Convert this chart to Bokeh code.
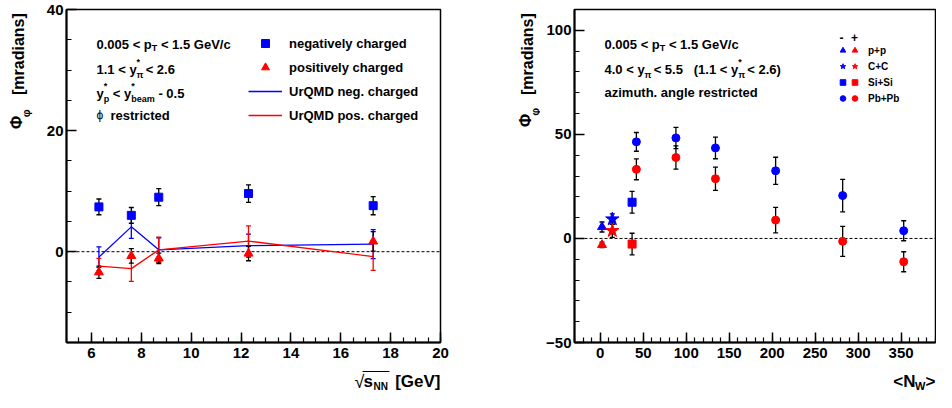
import math
from bokeh.plotting import figure
from bokeh.models import (ColumnDataSource, Whisker, TeeHead, Span, Label, Legend,
                          LegendItem, Range1d, SingleIntervalTicker)
from bokeh.layouts import row, column
from bokeh.embed import file_html
from bokeh.resources import INLINE

FONT = "Liberation Sans"
BLUE = "#0000ff"
RED = "#ff0000"

# ---------------- left panel data (vs sqrt(s_NN)) ----------------
sqrt_s_nn = [6.3, 7.6, 8.7, 12.3, 17.3]
neg_phi = [7.4, 6.0, 9.0, 9.6, 7.6]
neg_err = [1.3, 1.3, 1.4, 1.45, 1.5]
pos_phi = [-3.4, -0.7, -1.1, -0.3, 1.7]
pos_err = [1.0, 1.2, 0.85, 1.2, 1.6]
urqmd_neg = [-0.9, 4.1, 0.3, 1.0, 1.25]
urqmd_neg_err = [1.7, 1.9, 2.0, 1.9, 2.4]
urqmd_pos = [-2.4, -2.8, 0.3, 1.75, -0.8]
urqmd_pos_err = [1.3, 2.1, 2.1, 2.5, 2.3]
left_legend_labels = ["negatively charged", "positively charged",
                      "UrQMD neg. charged", "UrQMD pos. charged"]

# ---------------- right panel data (vs <N_W>) ----------------
systems = ["p+p", "C+C", "Si+Si", "Pb+Pb"]
nw_pp = [2]
neg_pp = [5.5]
neg_pp_err = [2.4]
pos_pp = [-3.1]
pos_pp_err = [1.3]
nw_cc = [14]
neg_cc = [9.3]
neg_cc_err = [2.5]
pos_cc = [3.7]
pos_cc_err = [3.2]
nw_sisi = [37]
neg_sisi = [17.4]
neg_sisi_err = [5.2]
pos_sisi = [-2.7]
pos_sisi_err = [5.2]
nw_pbpb = [42, 88, 134, 204, 282, 353]
neg_pbpb = [46.4, 48.3, 43.5, 32.5, 20.6, 3.7]
neg_pbpb_err = [4.5, 5.1, 5.2, 6.5, 7.8, 4.8]
pos_pbpb = [33.2, 38.9, 28.7, 8.8, -1.4, -11.2]
pos_pbpb_err = [5.0, 5.6, 5.6, 6.1, 7.2, 4.8]

# ---------------- text helpers ----------------
AW = {' ': 278, '.': 278, ',': 278, '<': 584, '>': 584, '+': 584, '-': 333, '/': 278,
      '(': 333, ')': 333, '[': 333, ']': 333, '*': 389,
      'a': 556, 'b': 611, 'c': 556, 'd': 611, 'e': 556, 'f': 333, 'g': 611, 'h': 611,
      'i': 278, 'j': 278, 'k': 556, 'l': 278, 'm': 889, 'n': 611, 'o': 611, 'p': 611,
      'q': 611, 'r': 389, 's': 556, 't': 333, 'u': 611, 'v': 556, 'w': 778, 'x': 556,
      'y': 556, 'z': 500, 'A': 722, 'B': 722, 'C': 722, 'D': 722, 'E': 667, 'F': 611,
      'G': 778, 'H': 722, 'I': 278, 'M': 833, 'N': 722, 'P': 667, 'Q': 778, 'R': 722,
      'S': 667, 'T': 611, 'U': 722, 'V': 667, 'W': 944, 'π': 600, 'ϕ': 650}
for d in "0123456789":
    AW[d] = 556


def tw(s, size):
    return sum(AW.get(c, 600) for c in s) / 1000.0 * size


def put(p, x, y, text, size, x_off=0, y_off=0, align="left", baseline="middle",
        angle=0, style="bold", color="black"):
    p.add_layout(Label(x=x, y=y, x_offset=x_off, y_offset=y_off, text=text,
                       text_font=FONT, text_font_size=f"{size}px", text_font_style=style,
                       text_color=color, text_align=align, text_baseline=baseline,
                       angle=angle))


def draw_piece(p, x, y, txt, size, off, dy):
    lead = len(txt) - len(txt.lstrip(" "))
    body = txt.strip(" ")
    if body:
        put(p, x, y, body, size, x_off=off + tw(" " * lead, size), y_off=dy)
    return tw(txt, size)


def rich(p, x, y, parts, size=13, x_off=0):
    off = x_off
    small = round(size * 0.7)
    for part in parts:
        kind = part[0]
        if kind == "n":
            off += draw_piece(p, x, y, part[1], size, off, 0)
        elif kind == "subT":
            off += draw_piece(p, x, y, part[1], small, off, -4)
        elif kind == "sub":
            off += draw_piece(p, x, y, part[1], small, off, -6)
        elif kind == "subsup":
            w1 = draw_piece(p, x, y, part[1], small, off, -6)
            w2 = draw_piece(p, x, y, part[2], small, off, 7)
            off += max(w1, w2)
    return off


def errbars(p, xs, ys, errs, color):
    src = ColumnDataSource(dict(x=xs, lower=[a - b for a, b in zip(ys, errs)],
                                upper=[a + b for a, b in zip(ys, errs)]))
    p.add_layout(Whisker(source=src, base="x", lower="lower", upper="upper",
                         line_color=color, line_width=1.3, level="underlay",
                         lower_head=TeeHead(size=5, line_color=color, line_width=1.3),
                         upper_head=TeeHead(size=5, line_color=color, line_width=1.3)))


def style_axes(p, xint, xminor, yint, yminor):
    p.xaxis.ticker = SingleIntervalTicker(interval=xint, num_minor_ticks=xminor)
    p.yaxis.ticker = SingleIntervalTicker(interval=yint, num_minor_ticks=yminor)
    for ax in (p.xaxis[0], p.yaxis[0]):
        ax.axis_line_color = "black"
        ax.axis_line_width = 2
        ax.major_tick_in = 10
        ax.major_tick_out = 0
        ax.minor_tick_in = 5
        ax.minor_tick_out = 0
        ax.major_tick_line_color = "black"
        ax.minor_tick_line_color = "black"
        ax.major_tick_line_width = 1.5
        ax.minor_tick_line_width = 1.2
        ax.major_label_text_font = FONT
        ax.major_label_text_font_style = "bold"
        ax.major_label_text_font_size = "15px"
        ax.major_label_text_color = "black"
    p.xaxis.major_label_standoff = 5
    p.yaxis.major_label_standoff = 3
    p.xgrid.visible = False
    p.ygrid.visible = False
    p.outline_line_color = "black"
    p.outline_line_width = 1.5
    p.outline_line_alpha = 1.0
    p.background_fill_color = "white"
    p.border_fill_color = "white"


def text_canvas(w, h):
    """A bare figure (no axes) whose data units are pixels, used for axis titles."""
    t = figure(width=w, height=h, x_range=Range1d(0, w), y_range=Range1d(0, h),
               x_axis_location=None, y_axis_location=None, toolbar_location=None,
               output_backend="svg", min_border=0, outline_line_color=None)
    t.grid.visible = False
    t.background_fill_color = "white"
    t.border_fill_color = "white"
    return t


# ================= LEFT PANEL =================
XL0, XL1, YL0, YL1 = 5, 20, -15, 40
p1 = figure(width=444, height=366, x_range=Range1d(XL0, XL1), y_range=Range1d(YL0, YL1),
            output_backend="svg", toolbar_location=None,
            min_border_left=30, min_border_right=40, min_border_top=9, min_border_bottom=24)
style_axes(p1, 2, 4, 20, 4)
p1.add_layout(Span(location=0, dimension="width", line_color="black", line_dash="3 2",
                   line_width=1, level="underlay"))

errbars(p1, sqrt_s_nn, urqmd_neg, urqmd_neg_err, BLUE)
errbars(p1, sqrt_s_nn, urqmd_pos, urqmd_pos_err, RED)
r_un = p1.line(sqrt_s_nn, urqmd_neg, line_color=BLUE, line_width=1.3)
r_up = p1.line(sqrt_s_nn, urqmd_pos, line_color=RED, line_width=1.3)
errbars(p1, sqrt_s_nn, neg_phi, neg_err, "black")
errbars(p1, sqrt_s_nn, pos_phi, pos_err, "black")
r_neg = p1.scatter(sqrt_s_nn, neg_phi, marker="square", size=8, fill_color=BLUE, line_color=BLUE)
r_pos = p1.scatter(sqrt_s_nn, pos_phi, marker="triangle", size=9, fill_color=RED, line_color=RED)

leg1 = Legend(items=[LegendItem(label=lab, renderers=[r]) for lab, r in
                     zip(left_legend_labels, [r_neg, r_pos, r_un, r_up])],
              location=(182, 217), glyph_width=34, glyph_height=20, spacing=4,
              label_standoff=7, padding=0, margin=0, border_line_alpha=0,
              background_fill_alpha=0, label_text_font=FONT, label_text_font_style="bold",
              label_text_font_size="13px", label_text_color="black")
p1.add_layout(leg1)

rich(p1, XL0, 34.3, [("n", "0.005 < p"), ("subT", "T"), ("n", " < 1.5 GeV/c")], x_off=30)
rich(p1, XL0, 30.1, [("n", "1.1 < y"), ("subsup", "π", "*"), ("n", " < 2.6")], x_off=30)
rich(p1, XL0, 26.2, [("n", "y"), ("subsup", "p", "*"), ("n", " < y"), ("subsup", "beam", "*"),
                     ("n", " - 0.5")], x_off=30)
put(p1, XL0, 22.5, "ϕ", 12, x_off=30, style="normal")
put(p1, XL0, 22.5, "restricted", 13, x_off=44)

# ================= RIGHT PANEL =================
XR0, XR1, YR0, YR1 = -30, 390, -50, 110
p2 = figure(width=396, height=366, x_range=Range1d(XR0, XR1), y_range=Range1d(YR0, YR1),
            output_backend="svg", toolbar_location=None,
            min_border_left=34, min_border_right=1, min_border_top=9, min_border_bottom=24)
style_axes(p2, 50, 5, 50, 5)
p2.add_layout(Span(location=0, dimension="width", line_color="black", line_dash="3 2",
                   line_width=1, level="underlay"))

blue_r, red_r = [], []
for nw, ng, nge, ps, pse, mk, sz in [
        (nw_pp, neg_pp, neg_pp_err, pos_pp, pos_pp_err, "triangle", 9),
        (nw_cc, neg_cc, neg_cc_err, pos_cc, pos_cc_err, "star", 14),
        (nw_sisi, neg_sisi, neg_sisi_err, pos_sisi, pos_sisi_err, "square", 8),
        (nw_pbpb, neg_pbpb, neg_pbpb_err, pos_pbpb, pos_pbpb_err, "circle", 8)]:
    errbars(p2, nw, ng, nge, "black")
    errbars(p2, nw, ps, pse, "black")
    blue_r.append(p2.scatter(nw, ng, marker=mk, size=sz, fill_color=BLUE, line_color=BLUE))
    red_r.append(p2.scatter(nw, ps, marker=mk, size=sz, fill_color=RED, line_color=RED))

common = dict(glyph_width=15, glyph_height=14, spacing=2, padding=0, margin=0,
              border_line_alpha=0, background_fill_alpha=0, label_text_font=FONT,
              label_text_font_style="bold", label_text_font_size="10px",
              label_text_color="black")
leg_b = Legend(items=[LegendItem(label=" ", renderers=[r]) for r in blue_r],
               location=(261, 237), label_standoff=0, **common)
leg_r = Legend(items=[LegendItem(label=s, renderers=[r]) for s, r in zip(systems, red_r)],
               location=(273, 237), label_standoff=6, **common)
p2.add_layout(leg_b)
p2.add_layout(leg_r)
put(p2, XR0, 96.7, "-", 12, x_off=267, align="center")
put(p2, XR0, 96.7, "+", 12, x_off=280, align="center")

rich(p2, XR0, 93.3, [("n", "0.005 < p"), ("subT", "T"), ("n", " < 1.5 GeV/c")], x_off=30)
rich(p2, XR0, 81.3, [("n", "4.0 < y"), ("sub", "π"), ("n", " < 5.5"), ("n", "   "),
                     ("n", "(1.1 < y"), ("subsup", "π", "*"), ("n", " < 2.6)")], x_off=30)
put(p2, XR0, 70.3, "azimuth. angle restricted", 13, x_off=30)

# ================= AXIS TITLES (pixel-unit text canvases) =================
yt1 = text_canvas(36, 366)
put(yt1, 18, 317, "[mradians]", 16, align="center", angle=math.pi / 2)
put(yt1, 16, 242, "Φ", 16, align="center", angle=math.pi / 2)
put(yt1, 25, 252, "φ", 11, align="center", angle=math.pi / 2)

yt2 = text_canvas(60, 366)
put(yt2, 47, 317, "[mradians]", 16, align="center", angle=math.pi / 2)
put(yt2, 45, 244, "Φ", 16, align="center", angle=math.pi / 2)
put(yt2, 54, 253.5, "φ", 11, align="center", angle=math.pi / 2)

xt = text_canvas(936, 26)
put(xt, 440, 11, "[GeV]", 17, align="right")
put(xt, 363, 11, "s", 17)
put(xt, 373, 6.5, "NN", 10)
put(xt, 364, 11, "√", 18, align="right", style="normal")
# overline of the square-root sign (part of the axis title, pixel units)
xt.segment(x0=[362], y0=[21], x1=[389], y1=[21], line_color="black", line_width=1.2)
put(xt, 935, 11, ">", 17, align="right")
put(xt, 925, 7, "W", 11, align="right")
put(xt, 915, 11, "<N", 17, align="right")

layout = column(row(yt1, p1, yt2, p2), xt)
open("out.html", "w").write(file_html(layout, INLINE))
